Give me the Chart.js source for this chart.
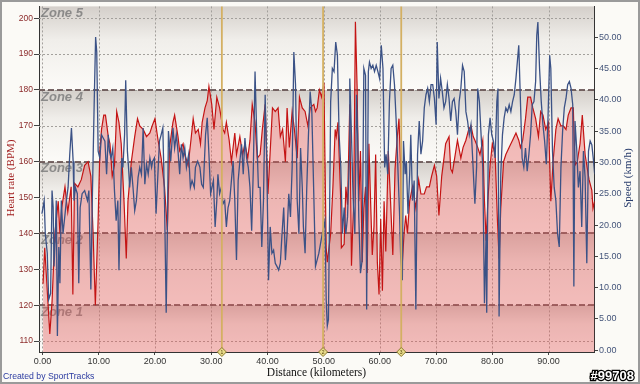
<!DOCTYPE html>
<html>
<head>
<meta charset="utf-8">
<script src="https://cdn.jsdelivr.net/npm/chart.js@4.4.1/dist/chart.umd.min.js"></script>
<style>
  html, body { margin: 0; padding: 0; background: #fbfaf6; }
  canvas { display: block; }
</style>
</head>
<body>
<canvas id="tracksChart" width="640" height="384"></canvas>
<script>
// heart rate trace (km, bpm)
var hrDistance = [0.1,0.4,1.0,1.3,1.7,2.2,2.8,3.1,3.4,4.0,4.5,5.1,5.4,5.7,6.3,6.9,7.5,8.1,8.6,9.0,
  9.4,9.9,10.2,10.5,10.9,11.2,11.7,12.0,12.4,12.8,13.2,13.6,14.0,14.5,14.9,15.2,15.8,16.4,16.9,17.3,
  17.9,18.5,19.1,19.5,20.0,20.55,21.1,21.7,22.2,22.6,23.2,
  23.5,24.1,24.4,25.0,25.3,25.9,26.4,26.8,27.2,27.7,28.1,28.4,28.9,29.3,29.6,30.1,30.5,31.0,31.5,32.1,
  32.4,32.7,33.2,33.6,34.2,34.5,35.1,35.6,36.0,36.5,36.9,37.3,37.8,38.2,38.7,39.1,39.6,40.1,40.5,40.9,
  41.4,41.9,42.3,42.7,43.2,43.5,43.9,44.4,44.8,45.3,45.7,46.2,46.7,47.2,47.6,
  48.25,48.55,48.85,49.25,49.65,50.05,50.45,50.65,51.25,51.65,52.05,52.25,52.55,53.05,53.15,53.65,53.95,54.25,54.65,54.95,
  55.35,55.65,55.95,56.25,56.55,56.85,57.15,57.45,57.75,58.05,58.35,58.65,58.95,59.25,59.55,59.85,60.15,60.45,60.75,61.05,
  61.5,61.9,62.3,62.7,63.1,63.4,63.7,64.0,64.3,64.6,64.9,65.3,65.8,66.4,66.9,67.3,67.9,68.3,68.8,69.2,
  69.7,70.1,70.5,71.0,71.4,71.7,
  72.3,72.6,72.9,73.4,73.8,74.4,74.8,75.3,75.8,76.2,76.6,76.9,77.4,77.8,78.3,78.6,78.9,79.2,79.6,80.0,
  80.5,80.9,81.2,81.5,82.0,82.4,83.0,83.6,84.2,84.7,85.0,85.4,85.9,86.3,86.8,87.2,87.7,88.2,88.6,89.0,
  89.5,90.0,90.4,90.8,91.3,91.7,92.2,92.6,93.1,93.5,94.0,94.4,94.7,95.1,95.6,96.0,96.5,96.9,97.2,97.7,
  97.9,98.2];
var hrValues = [126,136,120,112,121,140,149,140,147,153,146,153,123,154,153,155,159,160,156,140,
  120,144,163,169,173,173,167,165,156,159,174,171,165,149,133,149,160,167,172,170,
  169,167,168,170,172,166,161,153,141,164,171,
  173,167,163,165,162,159,166,172,168,169,165,171,175,177,181,176,169,178,175,169,
  168,171,166,160,168,162,167,162,165,161,166,176,171,161,162,169,176,151,163,175,
  174,175,167,169,160,175,164,174,169,161,178,175,174,170,175,
  176,174,175,180,178,182,136,132,140,153,169,167,171,149,136,137,153,148,176,131,
  150,199,181,149,163,132,147,153,129,165,149,134,142,162,132,123,144,124,149,135,
  163,149,134,158,167,172,158,132,140,145,140,149,153,147,155,151,151,153,153,156,
  159,156,145,156,161,165,
  167,158,157,162,166,161,164,166,169,170,167,166,164,162,166,149,138,149,159,165,
  162,144,133,147,160,162,164,166,168,166,164,166,172,178,178,175,172,167,174,173,
  169,171,149,160,169,172,170,170,169,173,175,175,159,160,165,173,162,158,155,152,
  147,149];

// speed trace (km, km/h)
var speedDistance = [-0.1,0.3,0.5,0.85,1.1,1.45,1.7,1.9,2.05,2.3,2.45,2.65,2.9,3.1,3.35,3.65,3.95,4.25,4.55,4.85,
  5.15,5.45,5.6,5.85,6.2,6.45,6.7,7.05,7.5,8.0,8.25,8.6,8.9,9.2,9.45,9.65,9.9,10.2,10.5,10.8,
  11.1,11.4,11.7,11.9,12.2,12.5,12.8,13.1,13.4,13.6,13.9,14.1,14.3,14.6,14.8,15.1,15.3,15.5,15.8,16.1,
  16.4,16.7,17.0,17.3,17.6,17.9,18.2,18.5,18.8,19.1,19.4,19.6,19.9,20.2,20.5,20.8,21.1,21.4,21.7,22.0,
  22.2,22.4,22.8,23.2,
  23.5,23.8,24.1,24.4,24.7,25.0,25.3,25.6,26.0,26.3,26.6,27.0,27.2,27.6,28.0,28.3,28.6,29.0,29.3,29.6,
  29.9,30.4,30.7,31.0,31.2,31.5,31.8,32.1,32.4,32.7,33.0,33.3,33.6,33.9,34.2,34.5,34.8,35.1,35.4,35.7,
  36.0,36.3,36.6,36.9,37.2,37.5,37.8,38.1,38.4,38.7,39.0,39.3,39.6,39.9,40.2,40.5,40.8,41.1,41.4,41.7,
  42.0,42.3,42.6,42.9,43.2,43.5,43.8,44.1,44.4,44.7,45.0,45.3,45.6,45.9,46.2,46.4,46.7,47.0,47.3,47.6,
  47.9,
  48.55,49.15,49.75,50.25,50.45,50.65,50.85,51.05,51.25,51.55,51.85,52.15,52.45,52.75,53.05,53.35,53.65,53.95,54.25,54.55,
  54.65,54.95,55.25,55.55,55.85,56.05,56.25,56.55,56.85,57.15,57.45,57.65,57.95,58.15,58.45,58.75,59.05,59.35,59.65,59.95,
  60.25,60.55,60.85,61.1,61.4,61.7,62.0,62.3,62.6,62.9,63.2,63.5,63.7,64.0,64.2,64.5,64.7,65.0,65.3,65.5,
  65.8,66.1,66.4,66.7,67.0,67.3,67.6,67.9,68.2,68.5,68.8,69.1,69.4,69.7,70.0,70.2,70.5,70.8,71.1,71.4,
  71.7,72.0,
  72.3,72.6,72.9,73.2,73.5,73.8,74.1,74.4,74.7,75.0,75.3,75.6,75.9,76.2,76.5,76.8,76.9,77.2,77.4,77.7,
  78.0,78.3,78.6,78.9,79.0,79.3,79.6,79.9,80.2,80.5,80.8,81.0,81.2,81.5,81.8,82.1,82.4,82.7,83.0,83.3,
  83.6,83.9,84.2,84.5,84.7,85.0,85.3,85.6,85.9,86.2,86.5,86.8,87.1,87.4,87.7,87.9,88.1,88.4,88.7,89.0,
  89.3,89.6,89.9,90.2,90.4,90.7,91.0,91.3,91.6,91.9,92.2,92.5,92.8,93.1,93.4,93.7,94.0,94.3,94.5,94.7,
  95.0,95.3,95.6,95.9,96.2,96.5,96.8,97.1,97.4,97.7,98.0,98.2];
var speedValues = [21.8,23.9,18.6,15.5,8.1,9.1,25.5,22.8,13.4,18.6,23.9,2.3,16.5,10.7,23.9,18.6,21.2,23.9,26.0,31.3,
  35.5,30.2,23.9,26.0,25.0,10.7,22.8,25.0,25.5,23.9,25.5,9.7,26.0,39.7,50.0,47.6,31.8,30.7,34.4,33.9,
  33.4,28.1,34.4,31.8,30.7,32.3,25.5,20.7,23.9,12.8,25.0,30.7,29.2,34.4,43.1,31.8,29.2,26.0,29.2,26.0,
  22.3,23.9,27.6,29.2,28.1,35.5,26.5,29.7,28.1,30.7,29.2,30.2,30.7,21.8,27.6,33.4,34.4,35.5,23.9,6.0,
  18.6,35.0,30.2,35.5,
  32.3,34.4,31.8,28.1,32.9,30.7,32.3,29.2,31.3,26.0,27.1,26.0,29.2,30.2,29.2,26.5,26.0,34.4,37.1,31.3,
  25.0,27.1,19.7,23.9,28.1,25.0,26.0,23.4,23.9,19.7,22.8,23.9,27.1,30.2,23.9,14.4,27.1,30.2,32.9,28.1,
  33.9,30.7,29.2,26.0,19.1,29.2,44.5,34.4,26.0,26.0,16.5,23.9,40.8,29.2,11.2,19.7,15.5,16.0,13.9,13.4,
  12.8,13.9,18.6,22.8,14.4,18.6,25.0,21.3,29.2,47.6,42.4,23.9,18.6,32.3,26.0,19.7,15.5,26.0,34.4,41.3,
  38.1,
  13.4,15.5,18.6,20.7,8.1,3.9,4.9,21.3,39.7,45.0,44.5,49.2,47.1,34.4,29.2,18.6,22.8,18.6,21.3,30.2,
  43.4,34.4,23.9,18.6,40.8,34.4,21.3,12.3,14.4,45.0,43.9,6.5,44.5,46.0,45.0,45.5,44.5,45.5,44.5,43.4,
  48.7,45.0,29.2,31.3,28.1,39.7,45.0,45.5,42.4,36.6,29.2,21.8,14.9,11.2,33.4,28.1,30.2,21.8,28.1,34.4,
  23.9,27.1,6.5,31.3,36.6,31.3,33.4,38.7,40.8,41.8,39.7,42.4,42.4,40.2,36.0,49.2,40.2,43.4,41.3,38.7,
  39.7,42.4,
  40.2,36.6,39.7,40.2,38.1,34.4,39.7,41.8,45.5,44.5,38.1,36.6,34.4,36.0,30.7,25.0,23.4,29.2,41.8,39.7,
  34.4,29.2,7.5,18.6,6.0,34.4,37.1,34.4,33.4,30.7,39.7,41.8,5.4,28.1,34.4,37.1,38.7,38.1,39.2,38.1,
  39.7,40.8,43.4,46.6,48.7,39.7,30.7,29.2,32.3,28.6,31.3,34.4,39.2,39.7,42.9,50.3,52.4,45.0,39.7,36.0,
  33.4,29.7,37.1,47.1,45.0,31.8,26.0,23.9,18.6,16.5,29.2,35.0,38.7,40.2,42.4,42.9,41.8,39.2,10.2,36.6,
  32.3,26.0,28.6,19.7,31.8,27.6,13.9,31.8,33.4,32.8,30.2,28.1];

var distanceTicks = [0,10,20,30,40,50,60,70,80,90];
var hrTicks = [110,120,130,140,150,160,170,180,190,200];
var speedTicks = [0,5,10,15,20,25,30,35,40,45,50];
var zoneLimits = [120,140,160,180];
var zoneNames = ['Zone 1','Zone 2','Zone 3','Zone 4','Zone 5'];
var lapDistances = [31.9,49.9,63.8];
var lapNumbers = ['1','2','3'];

function toPoints(xs, ys) {
  return xs.map(function (x, i) { return { x: x, y: ys[i] }; });
}

var trackDecor = {
  id: 'trackDecor',
  beforeDraw: function (chart) {
    var ctx = chart.ctx, a = chart.chartArea, y = chart.scales.y;
    ctx.save();
    ctx.fillStyle = '#fbfaf6';
    ctx.fillRect(0, 0, chart.width, chart.height);
    var edges = [y.min].concat(zoneLimits, [y.max]);
    for (var i = 0; i < edges.length - 1; i++) {
      var top = y.getPixelForValue(edges[i + 1]);
      var bot = y.getPixelForValue(edges[i]);
      var g = ctx.createLinearGradient(0, top, 0, bot);
      g.addColorStop(0, '#d4cfca');
      g.addColorStop(0.4, '#f0eeea');
      g.addColorStop(1, '#fcfbf8');
      ctx.fillStyle = g;
      ctx.fillRect(a.left, top, a.right - a.left, bot - top);
    }
    ctx.restore();
  },
  beforeDatasetsDraw: function (chart) {
    var ctx = chart.ctx, a = chart.chartArea, x = chart.scales.x, y = chart.scales.y;
    ctx.save();
    // dotted grid
    ctx.strokeStyle = '#a3a09c';
    ctx.lineWidth = 1;
    ctx.setLineDash([2, 2]);
    distanceTicks.forEach(function (d) {
      var px = Math.round(x.getPixelForValue(d)) + 0.5;
      ctx.beginPath(); ctx.moveTo(px, a.top); ctx.lineTo(px, a.bottom); ctx.stroke();
    });
    hrTicks.forEach(function (v) {
      var py = Math.round(y.getPixelForValue(v)) + 0.5;
      ctx.beginPath(); ctx.moveTo(a.left, py); ctx.lineTo(a.right, py); ctx.stroke();
    });
    // zone limits
    ctx.strokeStyle = 'rgba(105,85,85,0.9)';
    ctx.lineWidth = 2;
    ctx.setLineDash([6, 3]);
    zoneLimits.forEach(function (v) {
      var py = Math.round(y.getPixelForValue(v));
      ctx.beginPath(); ctx.moveTo(a.left, py); ctx.lineTo(a.right, py); ctx.stroke();
    });
    ctx.setLineDash([]);
    // zone names
    ctx.font = 'italic bold 13px "Liberation Sans"';
    ctx.fillStyle = 'rgba(125,125,125,0.85)';
    ctx.textBaseline = 'middle';
    ctx.textAlign = 'left';
    var tops = zoneLimits.concat([y.max]);
    zoneNames.forEach(function (name, i) {
      var py = i < 4 ? y.getPixelForValue(tops[i]) : a.top;
      ctx.fillText(name, a.left + 2, py + 7);
    });
    ctx.restore();
  },
  afterDatasetsDraw: function (chart) {
    var ctx = chart.ctx, a = chart.chartArea, x = chart.scales.x;
    ctx.save();
    // lap lines
    ctx.strokeStyle = '#d4b062';
    ctx.lineWidth = 1.8;
    lapDistances.forEach(function (d) {
      var px = x.getPixelForValue(d);
      ctx.beginPath(); ctx.moveTo(px, a.top); ctx.lineTo(px, a.bottom); ctx.stroke();
    });
    lapDistances.forEach(function (d, i) {
      var px = x.getPixelForValue(d), py = a.bottom;
      ctx.beginPath();
      ctx.moveTo(px, py - 4.5); ctx.lineTo(px + 4.5, py); ctx.lineTo(px, py + 4.5); ctx.lineTo(px - 4.5, py);
      ctx.closePath();
      ctx.fillStyle = '#e9dc8c';
      ctx.fill();
      ctx.lineWidth = 1;
      ctx.strokeStyle = '#8c7a2c';
      ctx.stroke();
      ctx.fillStyle = '#5a4a10';
      ctx.font = '5px "Liberation Sans"';
      ctx.textAlign = 'center';
      ctx.textBaseline = 'middle';
      ctx.fillText(lapNumbers[i], px, py + 0.5);
    });

    // axis titles
    ctx.textAlign = 'center';
    ctx.textBaseline = 'middle';
    ctx.font = '11px "Liberation Serif"';
    ctx.fillStyle = '#a01c1c';
    ctx.save();
    ctx.translate(11, 178);
    ctx.rotate(-Math.PI / 2);
    ctx.fillText('Heart rate (BPM)', 0, 0);
    ctx.restore();
    ctx.fillStyle = '#283c6c';
    ctx.save();
    ctx.translate(628.5, 178);
    ctx.rotate(-Math.PI / 2);
    ctx.fillText('Speed (km/h)', 0, 0);
    ctx.restore();
    ctx.fillStyle = '#111';
    ctx.font = '11.5px "Liberation Serif"';
    ctx.fillText('Distance (kilometers)', 316.5, 373);

    // footer
    ctx.textAlign = 'left';
    ctx.font = '8.7px "Liberation Sans"';
    ctx.fillStyle = '#2a3aa0';
    ctx.fillText('Created by SportTracks', 3, 377);
    ctx.textAlign = 'right';
    ctx.font = 'bold 13px "Liberation Sans"';
    ctx.lineWidth = 2.5;
    ctx.strokeStyle = '#000';
    ctx.strokeText('#99708', 634, 376);
    ctx.fillStyle = '#fff';
    ctx.fillText('#99708', 634, 376);

    // frame
    ctx.strokeStyle = '#9a9a9a';
    ctx.lineWidth = 2;
    ctx.strokeRect(1, 1, chart.width - 2, chart.height - 2);
    ctx.restore();
  }
};

Chart.defaults.font.family = '"Liberation Sans"';

new Chart(document.getElementById('tracksChart').getContext('2d'), {
  type: 'line',
  data: {
    datasets: [{
      label: 'Heart rate',
      data: toPoints(hrDistance, hrValues),
      yAxisID: 'y',
      borderColor: '#c41414',
      borderWidth: 1.2,
      backgroundColor: 'rgba(228,88,88,0.38)',
      fill: 'start',
      pointRadius: 0,
      tension: 0,
      order: 2
    }, {
      label: 'Speed',
      data: toPoints(speedDistance, speedValues),
      yAxisID: 'y1',
      borderColor: '#3b5286',
      borderWidth: 1.3,
      fill: false,
      pointRadius: 0,
      tension: 0,
      order: 1
    }]
  },
  options: {
    responsive: false,
    animation: false,
    devicePixelRatio: 1,
    layout: { padding: { top: 4, left: 0, right: 0, bottom: 0 } },
    plugins: { legend: { display: false }, tooltip: { enabled: false } },
    scales: {
      x: {
        type: 'linear',
        min: -0.62,
        max: 98.17,
        afterBuildTicks: function (s) { s.ticks = distanceTicks.map(function (v) { return { value: v }; }); },
        afterFit: function (s) { s.height = 32; },
        grid: { drawOnChartArea: false, drawTicks: true, tickLength: 3, color: '#444' },
        border: { color: '#333' },
        ticks: {
          color: '#333', font: { size: 9 }, padding: 1, maxRotation: 0, autoSkip: false,
          callback: function (v) { return Number(v).toFixed(2); }
        }
      },
      y: {
        position: 'left',
        min: 106.95,
        max: 203.3,
        afterBuildTicks: function (s) { s.ticks = hrTicks.map(function (v) { return { value: v }; }); },
        afterFit: function (s) { s.width = 39; },
        grid: { drawOnChartArea: false, drawTicks: true, tickLength: 5, color: '#444' },
        border: { color: '#333' },
        ticks: {
          color: '#8c2a2a', font: { size: 8.5 }, padding: 1,
          callback: function (v) { return String(v); }
        }
      },
      y1: {
        position: 'right',
        min: -0.27,
        max: 54.9,
        afterBuildTicks: function (s) { s.ticks = speedTicks.map(function (v) { return { value: v }; }); },
        afterFit: function (s) { s.width = 45.5; },
        grid: { drawOnChartArea: false, drawTicks: true, tickLength: 3.5, color: '#444' },
        border: { color: '#333' },
        ticks: {
          color: '#44557a', font: { size: 9 }, padding: 1,
          callback: function (v) { return Number(v).toFixed(2); }
        }
      }
    }
  },
  plugins: [trackDecor]
});
</script>
</body>
</html>
